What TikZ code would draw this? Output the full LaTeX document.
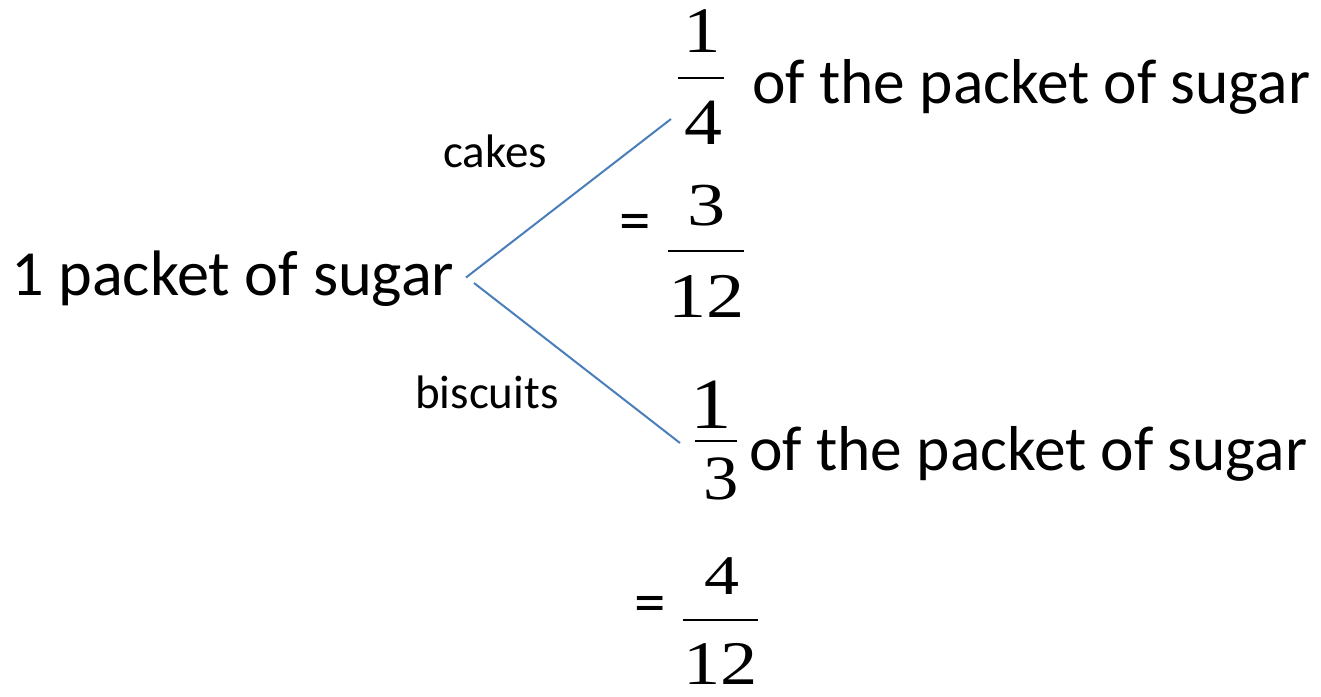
\documentclass[tikz,border=0pt]{standalone}
\usepackage{fontspec}
\setmainfont{Carlito}
\newfontfamily\tnr{Liberation Serif}
\definecolor{lineblue}{HTML}{4A7EBB}
\newcommand{\fs}[1]{\fontsize{#1}{#1}\selectfont}
\begin{document}
\begin{tikzpicture}[x=1pt,y=-1pt,
  bigtext/.style={inner sep=0pt,anchor=base west,font=\fs{63.4}},
  smalltext/.style={inner sep=0pt,anchor=base west,font=\fs{47}},
  digit/.style={inner sep=0pt,anchor=center},
  eqsign/.style={inner sep=0pt,anchor=center,font=\fs{63}},
  fracbar/.style={line width=2.2pt},
  branch/.style={draw=lineblue,line width=2pt}]
\useasboundingbox (0,0) rectangle (1321,696);
% texts
\node[bigtext,font=\fs{64.3}] (src) at (11,295) {1 packet of sugar};
\node[smalltext] (cakes) at (443,167) {cakes};
\node[smalltext] (biscuits) at (415,408) {biscuits};
\node[bigtext] (topt) at (752,103) {of the packet of sugar};
\node[bigtext] (bott) at (749,470) {of the packet of sugar};
% fraction 1/4
\node[digit,font={\tnr\fs{65}}] (n1) at (702,31) {\scalebox{1.15}[1]{1}};
\node[digit,font={\tnr\fs{66}}] (d1) at (703,122.5) {\scalebox{1.15}[1]{4}};
\coordinate (b1l) at (678,78); \coordinate (b1r) at (724,78);
\draw[fracbar] (b1l) -- (b1r);
% = 3/12
\node[eqsign] (eq1) at (635,228) {=};
\node[digit,font={\tnr\fs{61}}] (n2) at (706.5,206) {\scalebox{1.25}[1]{3}};
\node[digit,font={\tnr\fs{63.6}}] (d2) at (706.5,296.5) {\scalebox{1.2}[1]{12}};
\coordinate (b2l) at (668,251); \coordinate (b2r) at (744,251);
\draw[fracbar] (b2l) -- (b2r);
% fraction 1/3
\node[digit,font={\tnr\fs{72}}] (n3) at (711.5,405) {\scalebox{1.15}[1]{1}};
\node[digit,font={\tnr\fs{63}}] (d3) at (721.5,479) {\scalebox{1.12}[1]{3}};
\coordinate (b3l) at (695,441); \coordinate (b3r) at (737,441);
\draw[fracbar] (b3l) -- (b3r);
% = 4/12
\node[eqsign] (eq2) at (650.5,610) {=};
\node[digit,font={\tnr\fs{56}}] (n4) at (721.5,576.5) {\scalebox{1.25}[1]{4}};
\node[digit,font={\tnr\fs{62}}] (d4) at (720.5,664) {\scalebox{1.2}[1]{12}};
\coordinate (b4l) at (683,620); \coordinate (b4r) at (758,620);
\draw[fracbar] (b4l) -- (b4r);
% branches
\coordinate (c1s) at (466,277.5); \coordinate (c1e) at (671,119);
\coordinate (c2s) at (474,283); \coordinate (c2e) at (680,443);
\draw[branch] (c1s) -- (c1e);
\draw[branch] (c2s) -- (c2e);
\end{tikzpicture}
\end{document}
